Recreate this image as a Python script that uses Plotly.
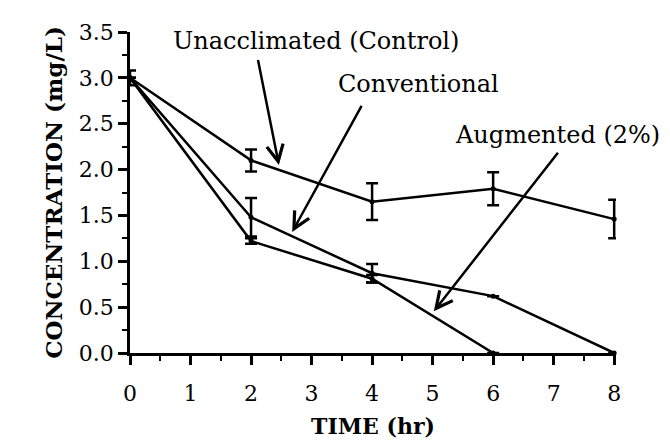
import plotly.graph_objects as go

# ---- data ----
time_hr = [0, 2, 4, 6, 8]
unacclimated = [3.0, 2.10, 1.65, 1.79, 1.46]
unacclimated_err = [0.08, 0.12, 0.20, 0.18, 0.21]

conv_time = [0, 2, 4, 6, 8]
conventional = [3.0, 1.48, 0.87, 0.62, 0.0]
conventional_err = [0.0, 0.21, 0.10, 0.0, 0.0]

aug_time = [0, 2, 4, 6]
augmented = [3.0, 1.22, 0.81, 0.0]
augmented_err = [0.0, 0.03, 0.04, 0.0]

x_ticks = [0, 1, 2, 3, 4, 5, 6, 7, 8]
y_ticks = [0.0, 0.5, 1.0, 1.5, 2.0, 2.5, 3.0, 3.5]

FONT = "DejaVu Serif"
BLACK = "#000000"

fig = go.Figure()

def add_series(x, y, err, name):
    fig.add_trace(go.Scatter(
        x=x, y=y, name=name, mode="lines+markers",
        line=dict(color=BLACK, width=2.5),
        marker=dict(color=BLACK, size=5),
        error_y=dict(type="data", array=err, visible=True,
                     color=BLACK, thickness=2.5, width=6),
        cliponaxis=False, showlegend=False,
    ))

add_series(time_hr, unacclimated, unacclimated_err, "Unacclimated (Control)")
add_series(conv_time, conventional, conventional_err, "Conventional")
add_series(aug_time, augmented, augmented_err, "Augmented (2%)")

labels = [
    ("Unacclimated (Control)", 3.08, 3.40, (2.11, 3.21), (2.46, 2.05)),
    ("Conventional", 4.76, 2.93, (3.84, 2.71), (2.68, 1.32)),
    ("Augmented (2%)", 7.07, 2.38, (7.09, 2.20), (5.02, 0.454)),
]
for text, tx, ty, tail, head in labels:
    fig.add_annotation(x=tx, y=ty, xref="x", yref="y", text=text,
                       showarrow=False, xanchor="center", yanchor="middle",
                       font=dict(family=FONT, size=24, color=BLACK))
    fig.add_annotation(x=head[0], y=head[1], ax=tail[0], ay=tail[1],
                       xref="x", yref="y", axref="x", ayref="y", text="",
                       showarrow=True, arrowhead=5, arrowsize=1.3,
                       arrowwidth=2.5, arrowcolor=BLACK, standoff=0)

axis_common = dict(
    showline=True, linecolor=BLACK, linewidth=2.5,
    ticks="outside", ticklen=9, tickwidth=2.5, tickcolor=BLACK,
    showgrid=False, zeroline=False,
    tickfont=dict(family=FONT, size=22, color=BLACK),
)

fig.update_xaxes(
    range=[0, 8.03], tickmode="array", tickvals=x_ticks,
    ticktext=[str(v) for v in x_ticks],
    minor=dict(dtick=0.5, ticks="outside", ticklen=5, tickwidth=2, tickcolor=BLACK),
    ticklabelstandoff=10,
    title=dict(text="<b>TIME (hr)</b>", font=dict(family=FONT, size=22, color=BLACK),
               standoff=14),
    **axis_common,
)
fig.update_yaxes(
    range=[0, 3.5], tickmode="array", tickvals=y_ticks,
    ticktext=[f"{v:.1f}" for v in y_ticks],
    minor=dict(dtick=0.25, ticks="outside", ticklen=5, tickwidth=2, tickcolor=BLACK),
    title=dict(text="<b>CONCENTRATION (mg/L)</b>", font=dict(family=FONT, size=23, color=BLACK),
               standoff=10),
    **axis_common,
)

fig.update_layout(
    width=670, height=440,
    margin=dict(l=122, r=62, t=15, b=88),
    paper_bgcolor="white", plot_bgcolor="white",
    showlegend=False,
)

fig.write_html("out.html")
